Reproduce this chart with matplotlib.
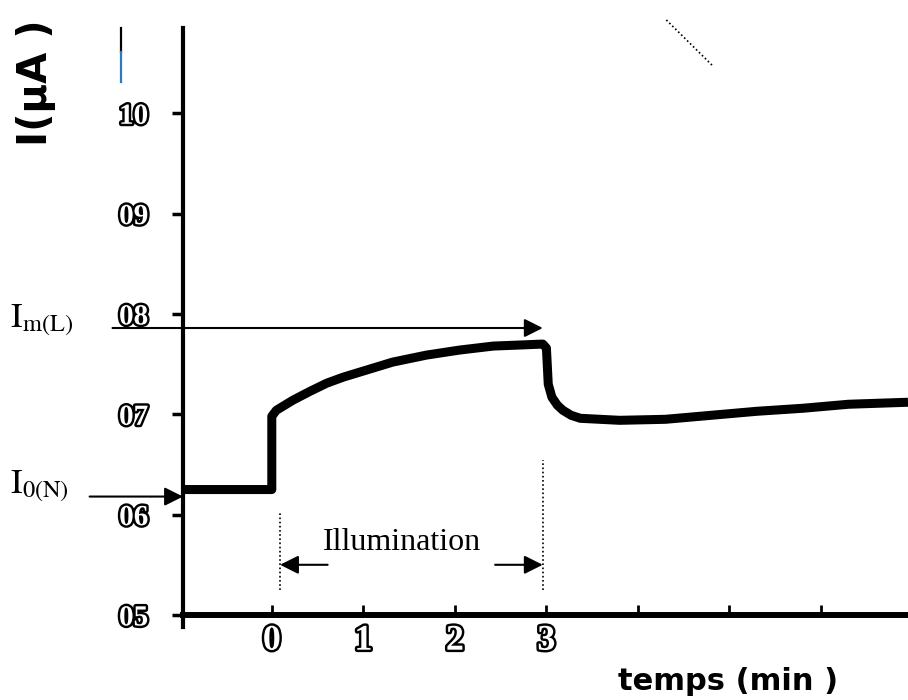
import matplotlib
matplotlib.use("Agg")
import matplotlib.pyplot as plt
import matplotlib.patheffects as pe

# ── Data ───────────────────────────────────────────────────────────────────
time_min = [-0.97, 0.00, 0.00, 0.05, 0.23, 0.42, 0.60, 0.78, 0.96, 1.14, 1.32,
            1.69, 2.05, 2.42, 2.70, 2.96, 3.00, 3.02, 3.06, 3.12, 3.18, 3.27,
            3.37, 3.80, 4.30, 4.80, 5.30, 5.80, 6.30, 6.95]
current = [6.25, 6.25, 6.98, 7.04, 7.14, 7.23, 7.31, 7.37, 7.42, 7.47, 7.52,
           7.59, 7.64, 7.68, 7.69, 7.70, 7.66, 7.30, 7.17, 7.09, 7.04, 6.99,
           6.96, 6.94, 6.95, 6.99, 7.03, 7.06, 7.10, 7.12]

y_ticks = [5, 6, 7, 8, 9, 10]
y_tick_labels = ["05", "06", "07", "08", "09", "10"]
x_ticks = [0, 1, 2, 3, 4, 5, 6]
x_tick_labels = ["0", "1", "2", "3", "", "", ""]

i0_level = 6.18       # I0(N) marker
im_level = 7.86       # Im(L) marker
illum_start = 0.09
illum_end = 2.96

W, H = 908, 700

plt.rcParams["mathtext.fontset"] = "stix"

fig = plt.figure(figsize=(W / 100, H / 100), dpi=100)
ax = fig.add_axes([183 / W, (H - 627) / H, (W - 183) / W, (627 - 28) / H])
ax.set_xlim(-0.97, 6.95)
ax.set_ylim(4.88, 10.85)

# main curve
ax.plot(time_min, current, color="black", linewidth=6.5, solid_capstyle="butt",
        solid_joinstyle="round", zorder=3)

# axes styling
for side in ("top", "right"):
    ax.spines[side].set_visible(False)
ax.spines["left"].set_linewidth(3)
ax.spines["bottom"].set_position(("data", 5))
ax.spines["bottom"].set_linewidth(4.3)

outline = [pe.withStroke(linewidth=3.5, foreground="black")]

ax.set_yticks(y_ticks)
ax.set_yticklabels(y_tick_labels)
ax.tick_params(axis="y", direction="out", length=8, width=2.5, pad=17)
for lab in ax.get_yticklabels():
    lab.set_fontfamily("Liberation Serif")
    lab.set_fontweight("bold")
    lab.set_fontsize(21)
    lab.set_color("white")
    lab.set_path_effects(outline)

ax.set_xticks(x_ticks)
ax.set_xticklabels(x_tick_labels)
ax.tick_params(axis="x", direction="in", length=7, width=2, pad=7)
for lab in ax.get_xticklabels():
    lab.set_fontfamily("Liberation Serif")
    lab.set_fontweight("bold")
    lab.set_fontsize(26)
    lab.set_color("white")
    lab.set_path_effects(outline)

# arrows for I0(N) and Im(L)
arrow_kw = dict(arrowstyle="-|>", color="black", lw=1.5, mutation_scale=28,
                shrinkA=0, shrinkB=0)
ax.annotate("", xy=(-0.97, i0_level), xytext=(-1.99, i0_level),
            arrowprops=arrow_kw, annotation_clip=False)
ax.annotate("", xy=(2.96, im_level), xytext=(-1.74, im_level),
            arrowprops=arrow_kw, annotation_clip=False)

# illumination period
ax.plot([illum_start, illum_start], [5.25, 6.03], color="black", lw=1.2,
        linestyle=(0, (1, 1.5)))
ax.plot([illum_end, illum_end], [5.25, 6.54], color="black", lw=1.2,
        linestyle=(0, (1, 1.5)))
ax.annotate("", xy=(illum_start, 5.50), xytext=(0.61, 5.50),
            arrowprops=arrow_kw)
ax.annotate("", xy=(illum_end, 5.50), xytext=(2.44, 5.50),
            arrowprops=arrow_kw)
ax.text(1.42, 5.72, "Illumination", fontsize=23, family="Liberation Serif",
        ha="center", va="center")

# stray scan marks
ax.plot([4.31, 4.82], [10.93, 10.47], color="black", lw=1.2,
        linestyle=(0, (1, 1.5)), clip_on=False)
fig.add_artist(plt.Line2D([121 / W, 121 / W], [1 - 28 / H, 1 - 52 / H],
                          color="black", lw=1.6))
fig.add_artist(plt.Line2D([121 / W, 121 / W], [1 - 52 / H, 1 - 82 / H],
                          color="#2b7bc4", lw=1.6))

# labels
fig.text(10 / W, 1 - 320 / H, r"$\mathrm{I}_{\mathrm{m(L)}}$", fontsize=25,
         ha="left", va="center")
fig.text(10 / W, 1 - 486 / H, r"$\mathrm{I}_{\mathrm{0(N)}}$", fontsize=25,
         ha="left", va="center")
fig.text(36 / W, 1 - 83 / H, "I(µA )", rotation=90, fontsize=29,
         fontweight="bold", ha="center", va="center")
fig.text(728 / W, 1 - 681 / H, "temps (min )", fontsize=22,
         fontweight="bold", ha="center", va="center")

fig.savefig("out.png", dpi=100)
